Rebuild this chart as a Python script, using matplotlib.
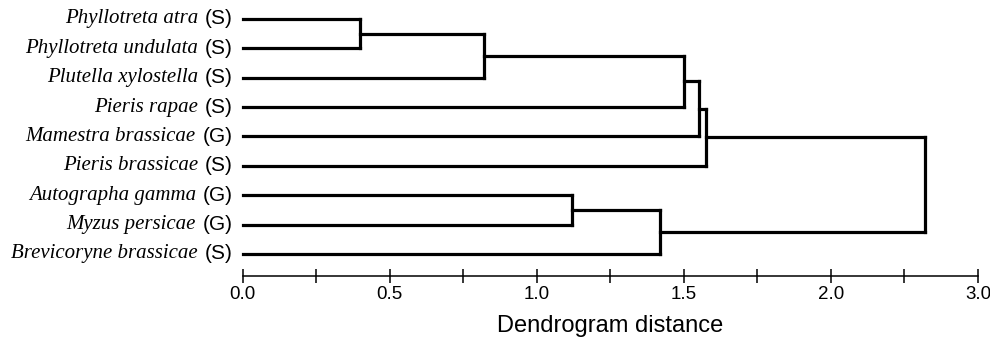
import matplotlib
matplotlib.use("Agg")
import matplotlib.pyplot as plt

# ---- data ----
species = ["Phyllotreta atra", "Phyllotreta undulata", "Plutella xylostella",
           "Pieris rapae", "Mamestra brassicae", "Pieris brassicae",
           "Autographa gamma", "Myzus persicae", "Brevicoryne brassicae"]
groups = ["S", "S", "S", "S", "G", "S", "G", "G", "S"]
# merges: (left node, right node, distance); leaves 0..8, new nodes 9..
merge_left = [0, 9, 10, 11, 12, 6, 14, 13]
merge_right = [1, 2, 3, 4, 5, 7, 8, 15]
merge_dist = [0.40, 0.82, 1.50, 1.55, 1.575, 1.12, 1.42, 2.32]
tick_values = [0.0, 0.25, 0.5, 0.75, 1.0, 1.25, 1.5, 1.75, 2.0, 2.25, 2.5]
tick_labels = ["0.0", "", "0.5", "", "1.0", "", "1.5", "", "2.0", "", "3.0"]
xlabel = "Dendrogram distance"

fig = plt.figure(figsize=(9.9, 3.37), dpi=100)
W, H = 990, 337
left_px, right_px = 242.5, 978
top_px, bottom_px = 4.3, 276
ax = fig.add_axes([left_px / W, (H - bottom_px) / H,
                   (right_px - left_px) / W, (bottom_px - top_px) / H])

n = len(species)
node_x = {i: 0.0 for i in range(n)}
node_y = {i: float(i) for i in range(n)}
lw = 2.3
for k, (a, b, d) in enumerate(zip(merge_left, merge_right, merge_dist)):
    idx = n + k
    ax.plot([node_x[a], d], [node_y[a], node_y[a]], color="black", lw=lw,
            solid_capstyle="projecting", clip_on=False)
    ax.plot([node_x[b], d], [node_y[b], node_y[b]], color="black", lw=lw,
            solid_capstyle="projecting", clip_on=False)
    ax.plot([d, d], [node_y[a], node_y[b]], color="black", lw=lw,
            solid_capstyle="projecting", clip_on=False)
    node_x[idx] = d
    node_y[idx] = (node_y[a] + node_y[b]) / 2

ax.set_xlim(0, 2.5)
ax.set_ylim(8.75, -0.5)

for s in ["top", "right", "left"]:
    ax.spines[s].set_visible(False)
ax.spines["bottom"].set_linewidth(1.1)
ax.set_yticks([])
ax.set_xticks(tick_values)
ax.set_xticklabels(tick_labels, fontfamily="Liberation Sans", fontsize=13.5)
ax.tick_params(axis="x", direction="inout", length=10, width=1.1, pad=2)
ax.set_xlabel(xlabel, fontfamily="Liberation Sans", fontsize=17, labelpad=9)

for i, (name, g) in enumerate(zip(species, groups)):
    tag = ax.annotate(f"({g})", xy=(0, i), xytext=(-7, 0), textcoords="offset points",
                      ha="right", va="center", fontfamily="Liberation Sans",
                      fontsize=15, annotation_clip=False)
    ax.annotate(name, xy=(0, 0.5), xycoords=tag, xytext=(-5, 0),
                textcoords="offset points", ha="right", va="center",
                fontfamily="Liberation Serif", fontstyle="italic", fontsize=15,
                annotation_clip=False)

fig.savefig("out.png", dpi=100)
